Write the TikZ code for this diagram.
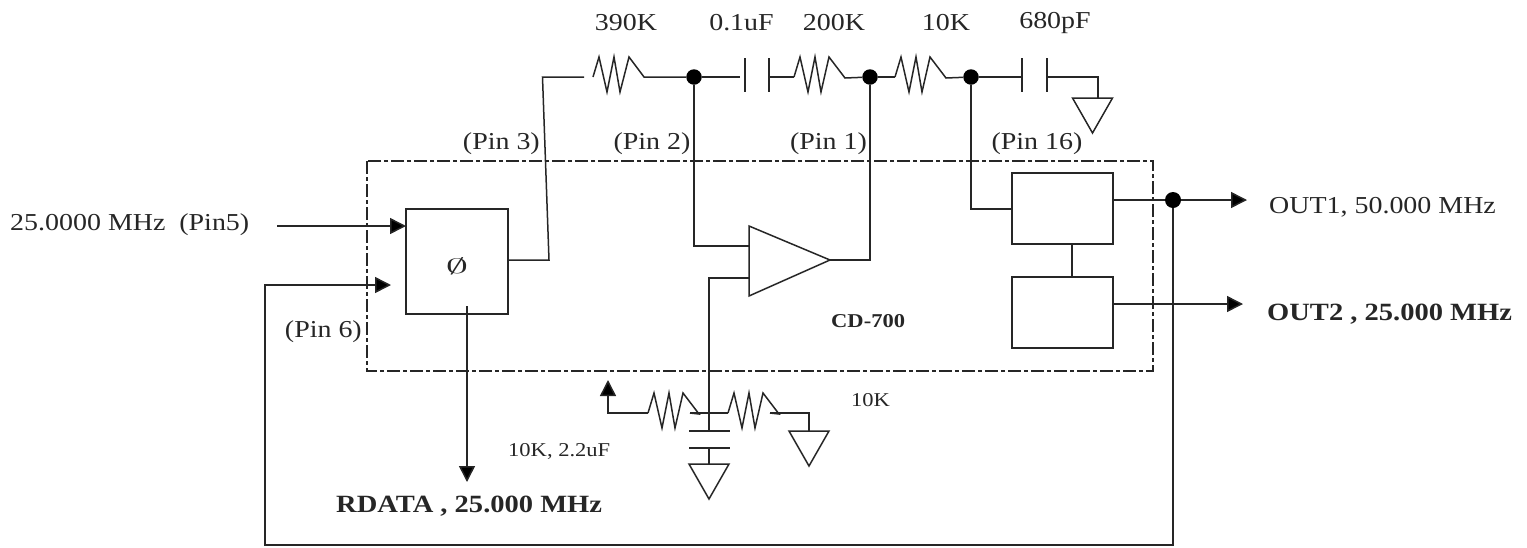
\documentclass[tikz,border=0pt]{standalone}
\usepackage{fontspec}
\usepackage{graphicx}
\setmainfont[FakeStretch=1.15]{Liberation Serif}
\usetikzlibrary{arrows.meta}
\tikzset{
  wire/.style={line width=1.5pt,draw=black!85},
  arr/.style={wire,-{Triangle[length=16pt,width=16pt,fill=black]}},
  block/.style={draw=black!85,line width=1.5pt,anchor=north west,inner sep=0pt,outer sep=0pt,fill=white},
  junction/.style={circle,fill=black,inner sep=0pt,minimum size=15.5pt},
  resistor/.style={to path={-- ++(6,-20) -- ++(8,35) -- ++(7,-35) -- ++(6,35) -- ++(8,-35) -- ++(16,21) -- (\tikztotarget)}},
  lab/.style={font=\fontsize{24.3}{26}\selectfont,inner sep=0pt,text=black!85},
  blab/.style={font=\fontsize{24.8}{26}\selectfont\bfseries,inner sep=0pt,text=black!85},
  cdlab/.style={font=\fontsize{19.6}{22}\selectfont\bfseries,inner sep=0pt,text=black!85},
  slab/.style={font=\fontsize{19.6}{22}\selectfont,inner sep=0pt,text=black!85},
  gnd/.pic={\draw[wire] (-20,0) -- (20,0) -- (0,35) -- cycle;}
}
\begin{document}
\begin{tikzpicture}[x=1pt,y=-1pt]
\useasboundingbox (0,0) rectangle (1527,547);
% enclosure
\draw[line width=1.5pt,draw=black!85,dash pattern=on 13pt off 3pt on 4pt off 3pt] (367,161) rectangle (1153,371);
% blocks
\node[block,minimum width=102pt,minimum height=105pt] (phase) at (406,209) {};
\node[font=\fontsize{20}{22}\selectfont,inner sep=0pt,text=black!85] (phi) at (457,266) {\scalebox{2.2}[1]{$\emptyset$}};
\node[block,minimum width=101pt,minimum height=71pt] (div1) at (1012,173) {};
\node[block,minimum width=101pt,minimum height=71pt] (div2) at (1012,277) {};
% junctions
\node[junction] (j1) at (694,77) {};
\node[junction] (j2) at (870,77) {};
\node[junction] (j3) at (971,77) {};
\node[junction,minimum size=16pt] (j4) at (1173,200) {};
% coordinates
\coordinate (inA) at (277,226);
\coordinate (inAt) at (406,226);
\coordinate (fbt) at (391,285);
\coordinate (fbc) at (265,285);
\coordinate (fbb) at (265,545);
\coordinate (fbr) at (1173,545);
\coordinate (phout) at (508,260);
\coordinate (phup) at (549,260);
\coordinate (top) at (542.5,77);
\coordinate (r1a) at (584,77);
\coordinate (r1s) at (593,77);
\coordinate (c1b) at (769,77);
\coordinate (r2a) at (794,77);
\coordinate (r3a) at (895,77);
\coordinate (c2a) at (1022,77);
\coordinate (c2b) at (1047,77);
\coordinate (g1c) at (1098,77);
\coordinate (rd) at (467,306);
\coordinate (rdt) at (467,482);
% amp
\coordinate (ampT) at (749,226);
\coordinate (ampB) at (749,296);
\coordinate (ampO) at (830,260);
\coordinate (ampP) at (749,246);
\coordinate (ampN) at (749,278);
\coordinate (pin2c) at (694,246);
\coordinate (pin1c) at (870,260);
\coordinate (negc) at (709,278);
% bottom network
\coordinate (cp1) at (709,431);
\coordinate (cp2) at (709,448);
\coordinate (g2) at (709,464);
\coordinate (arrT) at (608,380);
\coordinate (arrC) at (608,413);
\coordinate (r4a) at (648,413);
\coordinate (r4b) at (690,413);
\coordinate (r5a) at (728,413);
\coordinate (r5b) at (770,413);
\coordinate (g3c) at (809,413);
\coordinate (g3) at (809,431);
% top chain
\draw[wire] (phout) -- (phup) -- (top) -- (r1a);
\draw[wire] (r1s) -- ++(6,-20) -- ++(8,35) -- ++(7,-35) -- ++(6,35) -- ++(9,-35) -- ++(15,20) -- (j1);
\draw[wire] (j1) -- ++(46,0);
\draw[wire] (745,58) -- (745,92);
\draw[wire] (769,58) -- (769,92);
\draw[wire] (c1b) -- (r2a);
\draw[wire] (r2a) to[resistor] (j2);
\draw[wire] (j2) -- (r3a);
\draw[wire] (r3a) to[resistor] (j3);
\draw[wire] (j3) -- (c2a);
\draw[wire] (1022,58) -- (1022,92);
\draw[wire] (1047,58) -- (1047,92);
\draw[wire] (c2b) -- (g1c) -- (1098,98);
\pic at (1092.5,98) {gnd};
% pins
\draw[wire] (j1) -- (pin2c) -- (ampP);
\draw[wire] (j2) -- (pin1c) -- (ampO);
\draw[wire] (j3) -- (971,209) -- (div1.west |- 0,209);
% amp body
\draw[wire,fill=white] (ampT) -- (ampO) -- (ampB) -- cycle;
% links
\draw[wire] (div1.south -| 1072,0) -- (div2.north -| 1072,0);
\draw[arr] (div1.east |- j4) -- (j4) -- (1247,200);
\draw[arr] (div2.east |- 0,304) -- (1243,304);
% feedback
\draw[arr] (j4) -- (fbr) -- (fbb) -- (fbc) -- (fbt);
\draw[arr] (inA) -- (inAt);
\draw[arr] (rd) -- (rdt);
% bottom network
\draw[wire] (ampN) -- (negc) -- (cp1);
\draw[arr] (r4a) -- (arrC) -- (arrT);
\draw[wire] (r4a) to[resistor] (r4b);
\draw[wire] (r4b) -- (r5a);
\draw[wire] (r5a) to[resistor] (r5b);
\draw[wire] (r5b) -- (g3c) -- (g3);
\pic at (g3) {gnd};
\draw[wire] (689,431) -- (730,431);
\draw[wire] (689,448) -- (730,448);
\draw[wire] (cp2) -- (g2);
\pic at (g2) {gnd};
% labels
\node[lab] (t390) at (626,23) {390K};
\node[lab] (t01) at (741.5,23) {0.1uF};
\node[lab] (t200) at (834,23) {200K};
\node[lab] (t10) at (946,23) {10K};
\node[lab] (t680) at (1055,23) {680pF};
\node[lab,anchor=east] (p3) at (540,144) {(Pin 3)};
\node[lab] (p2) at (652,144) {(Pin 2)};
\node[lab] (p1) at (828.5,144) {(Pin 1)};
\node[lab] (p16) at (1037,144) {(Pin 16)};
\node[lab,anchor=west] (clk) at (10,225) {25.0000 MHz\ \ (Pin5)};
\node[lab,anchor=east] (p6) at (362,332) {(Pin 6)};
\node[cdlab,anchor=west] (cd) at (831,321) {CD-700};
\node[lab,anchor=west] (o1) at (1269,207) {OUT1, 50.000 MHz};
\node[blab,anchor=west] (o2) at (1267,314) {OUT2 , 25.000 MHz};
\node[blab,anchor=west] (rdl) at (336,506) {RDATA , 25.000 MHz};
\node[slab,anchor=west] (tt) at (508,451) {10K, 2.2uF};
\node[slab,anchor=west] (tk) at (851,400) {10K};
\end{tikzpicture}
\end{document}
